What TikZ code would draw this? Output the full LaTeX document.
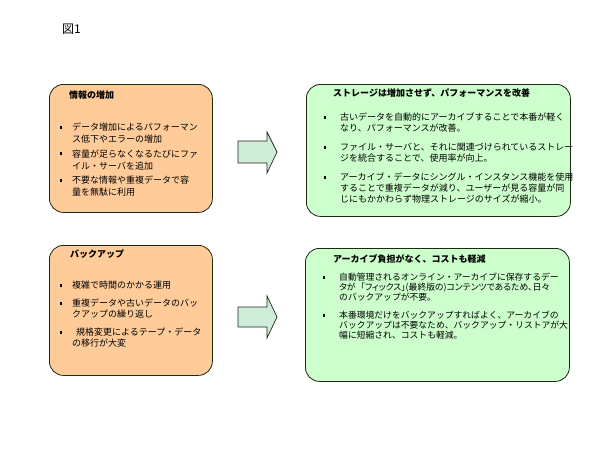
\documentclass[tikz,border=0pt]{standalone}
\usepackage{fontspec}
\setmainfont{Noto Sans CJK JP}
\definecolor{orfill}{RGB}{255,204,153}
\definecolor{grfill}{RGB}{204,255,204}
\definecolor{arfill}{RGB}{206,236,216}
\definecolor{edge}{RGB}{30,40,20}
\tikzset{
  boxshape/.style={draw=edge, line width=0.8pt, rounded corners=14pt, anchor=north west, inner sep=0pt},
  arrowshape/.style={draw=edge, line width=0.7pt, fill=arfill},
  bul/.style={rectangle, fill=black, minimum size=2.6pt, inner sep=0pt},
  txt/.style={anchor=base west, inner sep=0pt, font=\fontsize{9}{11}\selectfont},
  ttl/.style={anchor=base west, inner sep=0pt, font=\fontsize{9}{11}\selectfont\bfseries}
}
% name, bullet x, text x, baseline y, line skip, lines
\newcommand{\bitem}[6]{%
  \node[bul] (#1b) at (#2,#4-3.3) {};
  \foreach \l [count=\k from 0] in {#6} \node[txt] (#1l\k) at (#3,#4+\k*#5) {\l};
}
\begin{document}
\begin{tikzpicture}[x=1pt,y=-1pt]
\useasboundingbox (0,0) rectangle (600,450);
\fill[white] (0,0) rectangle (600,450);
% figure label
\node[anchor=base west, inner sep=0pt, font=\fontsize{12}{14}\selectfont] (fig) at (62,33) {図1};
% boxes
\node[boxshape, fill=orfill, minimum width=163pt, minimum height=128pt] (ob1) at (49,84) {};
\node[boxshape, fill=grfill, minimum width=264pt, minimum height=132pt] (gb1) at (306,84) {};
\node[boxshape, fill=orfill, minimum width=163pt, minimum height=130pt] (ob2) at (49,245) {};
\node[boxshape, fill=grfill, minimum width=264pt, minimum height=133pt] (gb2) at (305,248) {};
% arrows
\draw[arrowshape] (238,141) -- (267,141) -- (267,132) -- (277,152) -- (267,173) -- (267,163) -- (238,163) -- cycle;
\draw[arrowshape] (238,307) -- (267,307) -- (267,296) -- (277,317) -- (267,338) -- (267,327) -- (238,327) -- cycle;
% top-left
\node[ttl] (t1) at (69,98.5) {情報の増加};
\bitem{a1}{61}{72}{130.5}{12}{{データ増加によるパフォーマン},{ス低下やエラーの増加}}
\bitem{a2}{61}{72}{157}{12}{{容量が足らなくなるたびにファ},{イル・サーバを追加}}
\bitem{a3}{61}{72}{183.5}{12}{{不要な情報や重複データで容},{量を無駄に利用}}
% top-right
\node[ttl] (t2) at (333,96.5) {ストレージは増加させず、パフォーマンスを改善};
\bitem{b1}{325}{340}{120.5}{10.5}{{古いデータを自動的にアーカイブすることで本番が軽く},{なり、パフォーマンスが改善。}}
\bitem{b2}{325}{340}{150.5}{10.5}{{ファイル・サーバと、それに関連づけられているストレー},{ジを統合することで、使用率が向上。}}
\bitem{b3}{325}{340}{180.5}{11}{{アーカイブ・データにシングル・インスタンス機能を使用},{することで重複データが減り、ユーザーが見る容量が同},{じにもかかわらず物理ストレージのサイズが縮小。}}
% bottom-left
\node[ttl] (t3) at (70,257.5) {バックアップ};
\bitem{c1}{61}{72}{288.5}{11}{{複雑で時間のかかる運用}}
\bitem{c2}{61}{72}{306.5}{11}{{重複データや古いデータのバッ},{クアップの繰り返し}}
\bitem{c3}{61}{72}{335.5}{11}{{\hspace*{4pt}規格変更によるテープ・データ},{の移行が大変}}
% bottom-right
\node[ttl] (t4) at (333,262.5) {アーカイブ負担がなく、コストも軽減};
\begin{scope}[txt/.append style={font=\fontsize{8.8}{10}\selectfont}]
\bitem{d1}{324}{339}{280.5}{9.8}{{自動管理されるオンライン・アーカイブに保存するデー},{\addfontfeatures{RawFeature=+palt}タが\hspace{5pt}「フィックス」(最終版の)コンテンツであるため、日々},{のバックアップが不要。}}
\bitem{d2}{324}{339}{318.5}{9.8}{{本番環境だけをバックアップすればよく、アーカイブの},{バックアップは不要なため、バックアップ・リストアが大},{幅に短縮され、コストも軽減。}}
\end{scope}
\end{tikzpicture}
\end{document}
